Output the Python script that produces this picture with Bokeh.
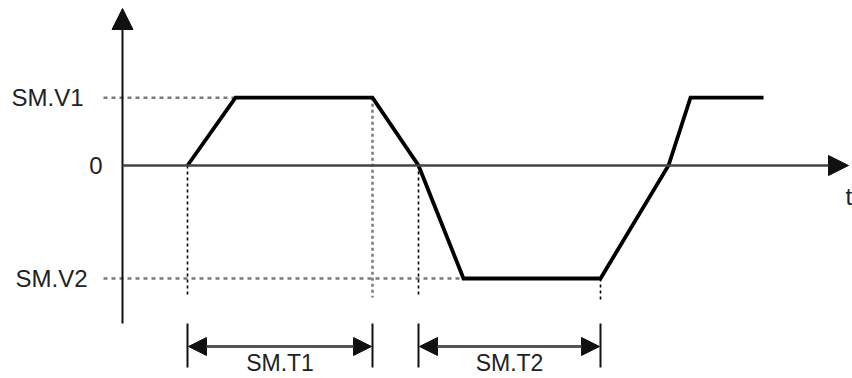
from bokeh.plotting import figure
from bokeh.models import Range1d, Arrow, NormalHead
from bokeh.core.properties import value
from bokeh.embed import file_html
from bokeh.resources import INLINE

# ---- data (time in arbitrary units, value in arbitrary units) ----
V1 = 0.6
V2 = -1.0
t_wave = [65, 113, 250, 296, 341, 478, 546, 568, 641]
v_wave = [0.0, V1, V1, 0.0, V2, V2, 0.0, V1, V1]
level_labels = ["SM.V1", "0", "SM.V2"]
level_values = [V1, 0.0, V2]
interval_labels = ["SM.T1", "SM.T2"]
interval_start = [t_wave[0], t_wave[3]]
interval_end = [t_wave[2], t_wave[5]]
axis_label = "t"

# ---- layout helpers (pixel geometry) ----
PX_PER_V = 113.0
Y0_PAGE = 165.0
X0_PAGE = 122.0
OFF = 0
W, H = 852, 378


def v_of(page_y):
    return (Y0_PAGE - page_y) / PX_PER_V


def t_of(page_x):
    return page_x - X0_PAGE


p = figure(width=W, height=H, output_backend="svg", toolbar_location=None,
           x_range=Range1d(t_of(OFF), t_of(OFF + W)),
           y_range=Range1d(v_of(OFF + H), v_of(OFF)),
           min_border=0)
p.axis.visible = False
p.grid.visible = False
p.outline_line_color = None
p.background_fill_color = "white"
p.border_fill_color = "white"

FONT = value("Liberation Sans")
TXT = "#222222"

# horizontal level guides (gray dotted)
p.segment(x0=[t_of(103), t_of(103)], y0=[V1, V2], x1=[t_wave[1], t_wave[4]], y1=[V1, V2],
          line_color="#7a7a7a", line_width=2.4, line_dash="4 4")

# vertical guides
p.segment(x0=[t_wave[0], t_wave[3], t_wave[5]],
          y0=[0.0, 0.0, V2],
          x1=[t_wave[0], t_wave[3], t_wave[5]],
          y1=[v_of(297), v_of(297), v_of(300)],
          line_color="black", line_width=1.6, line_dash="3 3")
p.segment(x0=[t_wave[2]], y0=[V1], x1=[t_wave[2]], y1=[v_of(297)],
          line_color="#7a7a7a", line_width=2.5, line_dash="3 3")

# axes
p.add_layout(Arrow(x_start=0, y_start=v_of(323), x_end=0, y_end=v_of(8),
                   line_color="#111111", line_width=2,
                   end=NormalHead(size=21, fill_color="#111111", line_color="#111111", line_width=1)))
p.add_layout(Arrow(x_start=0, y_start=0, x_end=t_of(848), y_end=0,
                   line_color="#444444", line_width=2.6,
                   end=NormalHead(size=20, fill_color="#111111", line_color="#111111", line_width=1)))

# waveform
p.line(t_wave, v_wave, line_color="black", line_width=3.8, line_join="miter")

# dimension markers
dim_y = v_of(346)
ends = interval_start + interval_end
p.segment(x0=ends, y0=[v_of(323)] * 4, x1=ends, y1=[v_of(367)] * 4,
          line_color="#111111", line_width=2)
for a, b in zip(interval_start, interval_end):
    p.add_layout(Arrow(x_start=a + 1, y_start=dim_y, x_end=b - 1, y_end=dim_y,
                       line_color="#555555", line_width=3,
                       start=NormalHead(size=18, fill_color="#111111", line_color="#111111", line_width=1),
                       end=NormalHead(size=18, fill_color="#111111", line_color="#111111", line_width=1)))

# labels
p.text(x=[t_of(83), t_of(102), t_of(87)], y=level_values, text=level_labels,
       text_align="right", text_baseline="middle", text_font=FONT,
       text_font_size="24px", text_color=TXT)
p.text(x=[(a + b) / 2 for a, b in zip(interval_start, interval_end)],
       y=[v_of(362)] * 2, text=interval_labels,
       text_align="center", text_baseline="middle", text_font=FONT,
       text_font_size="23px", text_color=TXT)
p.text(x=[t_of(845)], y=[v_of(196)], text=[axis_label],
       text_align="left", text_baseline="middle", text_font=FONT,
       text_font_size="24px", text_color=TXT)

open("out.html", "w").write(file_html(p, INLINE))
